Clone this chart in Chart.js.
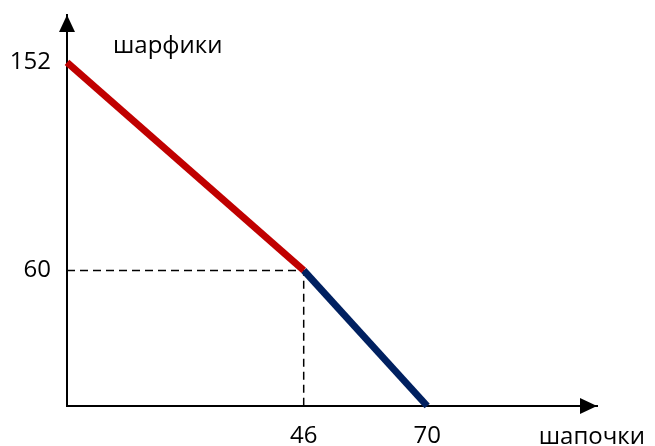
<!DOCTYPE html>
<html lang="ru">
  <head>
    <meta charset="UTF-8" />
    <title>Кривая производственных возможностей</title>
    <style>
      html, body { margin: 0; padding: 0; background: #fff; }
      canvas { display: block; }
    </style>
  </head>
  <body>
    <canvas id="myChart" width="655" height="446"></canvas>

    <script src="https://cdn.jsdelivr.net/npm/chart.js"></script>
    <script>
      // шапочки (x) и шарфики (y)
      const hats = [0, 46, 70];
      const scarves = [152, 60, 0];
      const xTickValues = [46, 70];
      const yTickValues = [60, 152];
      const xTitle = "шапочки";
      const yTitle = "шарфики";

      const font = { family: "'Open Sans', sans-serif", size: 24 };

      // axis arrows and axis names
      const arrows = {
        id: "arrows",
        afterDraw(chart) {
          const { ctx, chartArea } = chart;
          const l = chartArea.left, b = chartArea.bottom;
          const t = chartArea.top, r = chartArea.right;
          ctx.save();
          ctx.fillStyle = "#000";
          ctx.beginPath();
          ctx.moveTo(l, t);
          ctx.lineTo(l - 8, t + 17);
          ctx.lineTo(l + 8, t + 17);
          ctx.closePath();
          ctx.fill();
          ctx.beginPath();
          ctx.moveTo(r, b);
          ctx.lineTo(r - 17, b - 8);
          ctx.lineTo(r - 17, b + 8);
          ctx.closePath();
          ctx.fill();

          ctx.font = font.size + "px " + font.family;
          ctx.textBaseline = "middle";
          ctx.fillStyle = "#000";
          ctx.textAlign = "left";
          ctx.fillText(yTitle, l + 46, t + 31);
          ctx.textAlign = "right";
          ctx.fillText(xTitle, chart.width - 10, b + 31);
          ctx.restore();
        },
      };

      const ctx = document.getElementById("myChart").getContext("2d");
      new Chart(ctx, {
        type: "line",
        data: {
          datasets: [
            {
              data: [
                { x: hats[0], y: scarves[1] },
                { x: hats[1], y: scarves[1] },
                { x: hats[1], y: scarves[2] },
              ],
              borderColor: "#000",
              borderWidth: 1.5,
              borderDash: [8, 5],
              pointRadius: 0,
              order: 3,
            },
            {
              data: [
                { x: hats[0], y: scarves[0] },
                { x: hats[1], y: scarves[1] },
              ],
              borderColor: "#c00000",
              borderWidth: 7,
              pointRadius: 0,
              clip: false,
              order: 1,
            },
            {
              data: [
                { x: hats[1], y: scarves[1] },
                { x: hats[2], y: scarves[2] },
              ],
              borderColor: "#002060",
              borderWidth: 7,
              pointRadius: 0,
              clip: false,
              order: 2,
            },
          ],
        },
        options: {
          responsive: false,
          animation: false,
          layout: { padding: { top: 15, right: 58, left: 0, bottom: 0 } },
          plugins: { legend: { display: false }, tooltip: { enabled: false } },
          scales: {
            x: {
              type: "linear",
              min: 0,
              max: 103,
              afterBuildTicks: (s) => { s.ticks = xTickValues.map((v) => ({ value: v })); },
              afterFit: (s) => { s.height = 40; s.paddingLeft = 0; s.paddingRight = 0; },
              grid: { display: false, drawTicks: false },
              border: { display: true, color: "#000", width: 2 },
              ticks: { color: "#000", font, padding: 16, maxRotation: 0 },
            },
            y: {
              type: "linear",
              min: 0,
              max: 173,
              afterBuildTicks: (s) => { s.ticks = yTickValues.map((v) => ({ value: v })); },
              afterFit: (s) => { s.width = 67; s.paddingTop = 0; s.paddingBottom = 0; },
              grid: { display: false, drawTicks: false },
              border: { display: true, color: "#000", width: 2 },
              ticks: { color: "#000", font, padding: 16 },
            },
          },
        },
        plugins: [arrows],
      });
    </script>
  </body>
</html>
